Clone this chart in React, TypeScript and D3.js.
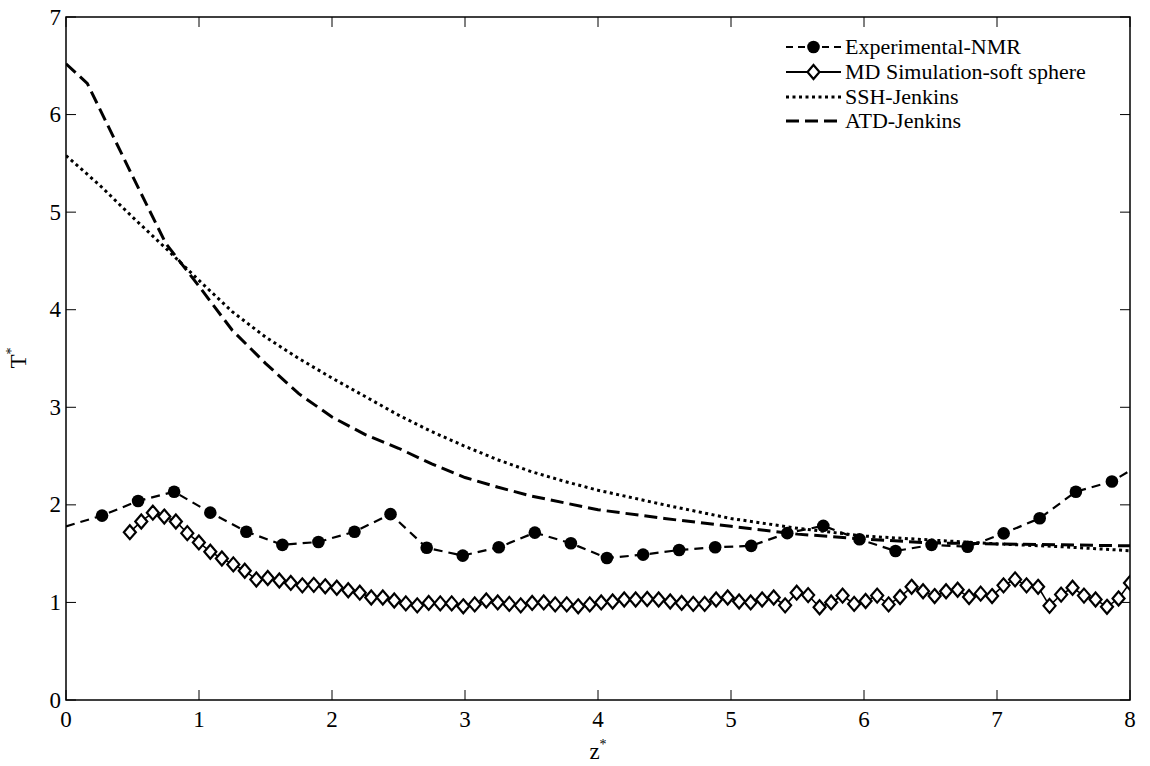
import React from "react";
import * as d3 from "d3";

// ---------- data ----------
const xTickValues = [0, 1, 2, 3, 4, 5, 6, 7, 8];
const yTickValues = [0, 1, 2, 3, 4, 5, 6, 7];

const nmrX = [0, 0.271, 0.542, 0.813, 1.085, 1.356, 1.627, 1.898, 2.169, 2.44, 2.712, 2.983, 3.254, 3.525, 3.796, 4.067, 4.339, 4.61, 4.881, 5.152, 5.423, 5.694, 5.966, 6.237, 6.508, 6.779, 7.05, 7.321, 7.593, 7.864, 8.0];
const nmrY = [1.78, 1.89, 2.04, 2.135, 1.92, 1.725, 1.59, 1.62, 1.725, 1.905, 1.56, 1.48, 1.565, 1.715, 1.606, 1.455, 1.49, 1.537, 1.565, 1.58, 1.71, 1.785, 1.647, 1.527, 1.59, 1.57, 1.708, 1.862, 2.135, 2.24, 2.35];
const nmrMarked = [false, true, true, true, true, true, true, true, true, true, true, true, true, true, true, true, true, true, true, true, true, true, true, true, true, true, true, true, true, true, false];

const mdX = [0.48, 0.566, 0.653, 0.739, 0.826, 0.912, 0.999, 1.085, 1.172, 1.258, 1.344, 1.431, 1.517, 1.604, 1.69, 1.777, 1.863, 1.949, 2.036, 2.122, 2.209, 2.295, 2.382, 2.468, 2.555, 2.641, 2.727, 2.814, 2.9, 2.987, 3.073, 3.16, 3.246, 3.333, 3.419, 3.505, 3.592, 3.678, 3.765, 3.851, 3.938, 4.024, 4.11, 4.197, 4.283, 4.37, 4.456, 4.543, 4.629, 4.716, 4.802, 4.888, 4.975, 5.061, 5.148, 5.234, 5.321, 5.407, 5.494, 5.58, 5.666, 5.753, 5.839, 5.926, 6.012, 6.099, 6.185, 6.271, 6.358, 6.444, 6.531, 6.617, 6.704, 6.79, 6.877, 6.963, 7.049, 7.136, 7.222, 7.309, 7.395, 7.482, 7.568, 7.654, 7.741, 7.827, 7.914, 8.0];
const mdY = [1.72, 1.83, 1.92, 1.88, 1.83, 1.71, 1.615, 1.52, 1.45, 1.39, 1.325, 1.235, 1.25, 1.225, 1.2, 1.175, 1.18, 1.165, 1.15, 1.125, 1.1, 1.05, 1.05, 1.02, 0.99, 0.97, 0.995, 0.99, 0.99, 0.96, 0.98, 1.02, 1.0, 0.985, 0.97, 0.995, 1.0, 0.98, 0.98, 0.96, 0.98, 1.0, 1.01, 1.03, 1.03, 1.035, 1.03, 1.01, 0.995, 0.985, 0.985, 1.03, 1.05, 1.01, 1.0, 1.03, 1.05, 0.97, 1.1, 1.075, 0.95, 1.0, 1.07, 0.985, 1.015, 1.07, 0.98, 1.055, 1.16, 1.115, 1.065, 1.115, 1.13, 1.055, 1.09, 1.065, 1.175, 1.236, 1.175, 1.16, 0.965, 1.08, 1.15, 1.07, 1.03, 0.955, 1.04, 1.2];

const sshX = [0, 0.25, 0.5, 0.75, 1.0, 1.25, 1.5, 1.75, 2.0, 2.25, 2.5, 2.75, 3.0, 3.25, 3.5, 3.75, 4.0, 4.5, 5.0, 5.5, 6.0, 6.5, 7.0, 7.5, 8.0];
const sshY = [5.58, 5.28, 4.95, 4.63, 4.3, 3.98, 3.72, 3.5, 3.3, 3.11, 2.92, 2.75, 2.6, 2.46, 2.34, 2.24, 2.15, 2.0, 1.86, 1.76, 1.68, 1.64, 1.6, 1.57, 1.53];

const atdX = [0, 0.16, 0.5, 0.75, 1.0, 1.25, 1.5, 1.75, 2.0, 2.25, 2.5, 2.75, 3.0, 3.25, 3.5, 3.75, 4.0, 4.5, 5.0, 5.5, 6.0, 6.5, 7.0, 7.5, 8.0];
const atdY = [6.52, 6.32, 5.37, 4.68, 4.24, 3.79, 3.45, 3.14, 2.9, 2.72, 2.58, 2.42, 2.28, 2.18, 2.09, 2.02, 1.95, 1.86, 1.78, 1.7, 1.65, 1.61, 1.6, 1.59, 1.58];

const legendLabels = ["Experimental-NMR", "MD Simulation-soft sphere", "SSH-Jenkins", "ATD-Jenkins"];

// ---------- layout ----------
const W = 1150;
const H = 766;
const L = 66, R = 1130, T = 17, B = 700;
const FONT = '"Liberation Serif", "Times New Roman", serif';
const FS = 22;
const TFS = 23;

export default function App() {
  const x = d3.scaleLinear().domain([0, 8]).range([L, R]);
  const y = d3.scaleLinear().domain([0, 7]).range([B, T]);

  const line = d3
    .line<[number, number]>()
    .x((d) => x(d[0]))
    .y((d) => y(d[1]));

  const nmr = nmrX.map((v, i) => [v, nmrY[i]] as [number, number]);
  const md = mdX.map((v, i) => [v, mdY[i]] as [number, number]);
  const ssh = sshX.map((v, i) => [v, sshY[i]] as [number, number]);
  const atd = atdX.map((v, i) => [v, atdY[i]] as [number, number]);

  const tickLen = 10;
  const diamond = (cx: number, cy: number, hw = 6, hh = 7) =>
    `M${cx},${cy - hh}L${cx + hw},${cy}L${cx},${cy + hh}L${cx - hw},${cy}Z`;

  const legX1 = 786, legX2 = 841, legTextX = 845;
  const legRows = [47, 72, 97, 121];
  const ts = { fontFamily: FONT };

  return (
    <svg
      width={W}
      height={H}
      style={{ position: "absolute", left: 0, top: 0, background: "#fff" }}
    >
      <defs>
        <clipPath id="plotClip">
          <rect x={L} y={T} width={R - L} height={B - T} />
        </clipPath>
      </defs>
      <rect x={0} y={0} width={W} height={H} fill="#fff" />

      {/* series */}
      <g clipPath="url(#plotClip)">
        <path d={line(ssh) || ""} fill="none" stroke="#000" strokeWidth={3} strokeDasharray="3,3.5" />
        <path d={line(atd) || ""} fill="none" stroke="#000" strokeWidth={3} strokeDasharray="13,6" />
        <path d={line(md) || ""} fill="none" stroke="#000" strokeWidth={1.6} />
        {md.map((d, i) => (
          <path key={"md" + i} d={diamond(x(d[0]), y(d[1]))} fill="#fff" stroke="#000" strokeWidth={2.2} />
        ))}
        <path d={line(nmr) || ""} fill="none" stroke="#000" strokeWidth={2.2} strokeDasharray="9,6" />
        {nmr.map((d, i) =>
          nmrMarked[i] ? <circle key={"n" + i} cx={x(d[0])} cy={y(d[1])} r={6.3} fill="#000" /> : null
        )}
      </g>

      {/* frame */}
      <rect x={L} y={T} width={R - L} height={B - T} fill="none" stroke="#000" strokeWidth={1.5} />

      {/* x ticks */}
      {xTickValues.map((v) => (
        <g key={"xt" + v}>
          <line x1={x(v)} x2={x(v)} y1={B} y2={B - tickLen} stroke="#000" strokeWidth={1} />
          <line x1={x(v)} x2={x(v)} y1={T} y2={T + tickLen} stroke="#000" strokeWidth={1} />
          <text x={x(v)} y={727} textAnchor="middle" fontSize={TFS} fill="#000" style={ts}>
            {v}
          </text>
        </g>
      ))}

      {/* y ticks */}
      {yTickValues.map((v) => (
        <g key={"yt" + v}>
          <line x1={L} x2={L + tickLen} y1={y(v)} y2={y(v)} stroke="#000" strokeWidth={1} />
          <line x1={R} x2={R - tickLen} y1={y(v)} y2={y(v)} stroke="#000" strokeWidth={1} />
          <text x={61} y={y(v) + 7.5} textAnchor="end" fontSize={TFS} fill="#000" style={ts}>
            {v}
          </text>
        </g>
      ))}

      {/* axis labels */}
      <text x={598} y={759} textAnchor="middle" fontSize={TFS} fill="#000" style={ts}>
        z<tspan fontSize={14} dy={-10}>*</tspan>
      </text>
      <text
        transform={`translate(26, 358) rotate(-90)`}
        textAnchor="middle"
        fontSize={TFS}
        fill="#000"
        style={ts}
      >
        T<tspan fontSize={14} dy={-10}>*</tspan>
      </text>

      {/* legend */}
      <g>
        <line x1={legX1} x2={legX2} y1={legRows[0]} y2={legRows[0]} stroke="#000" strokeWidth={2.2} strokeDasharray="7,5" />
        <circle cx={(legX1 + legX2) / 2} cy={legRows[0]} r={6.3} fill="#000" />
        <line x1={legX1} x2={legX2} y1={legRows[1]} y2={legRows[1]} stroke="#000" strokeWidth={1.8} />
        <path d={diamond((legX1 + legX2) / 2, legRows[1])} fill="#fff" stroke="#000" strokeWidth={2.2} />
        <line x1={legX1} x2={legX2} y1={legRows[2]} y2={legRows[2]} stroke="#000" strokeWidth={3} strokeDasharray="3,3.5" />
        <line x1={legX1} x2={legX2} y1={legRows[3]} y2={legRows[3]} stroke="#000" strokeWidth={3} strokeDasharray="13,6" />
        {legendLabels.map((t, i) => (
          <text key={t} x={legTextX} y={legRows[i] + 7} fontSize={FS} fill="#000" style={ts}>
            {t}
          </text>
        ))}
      </g>
    </svg>
  );
}
